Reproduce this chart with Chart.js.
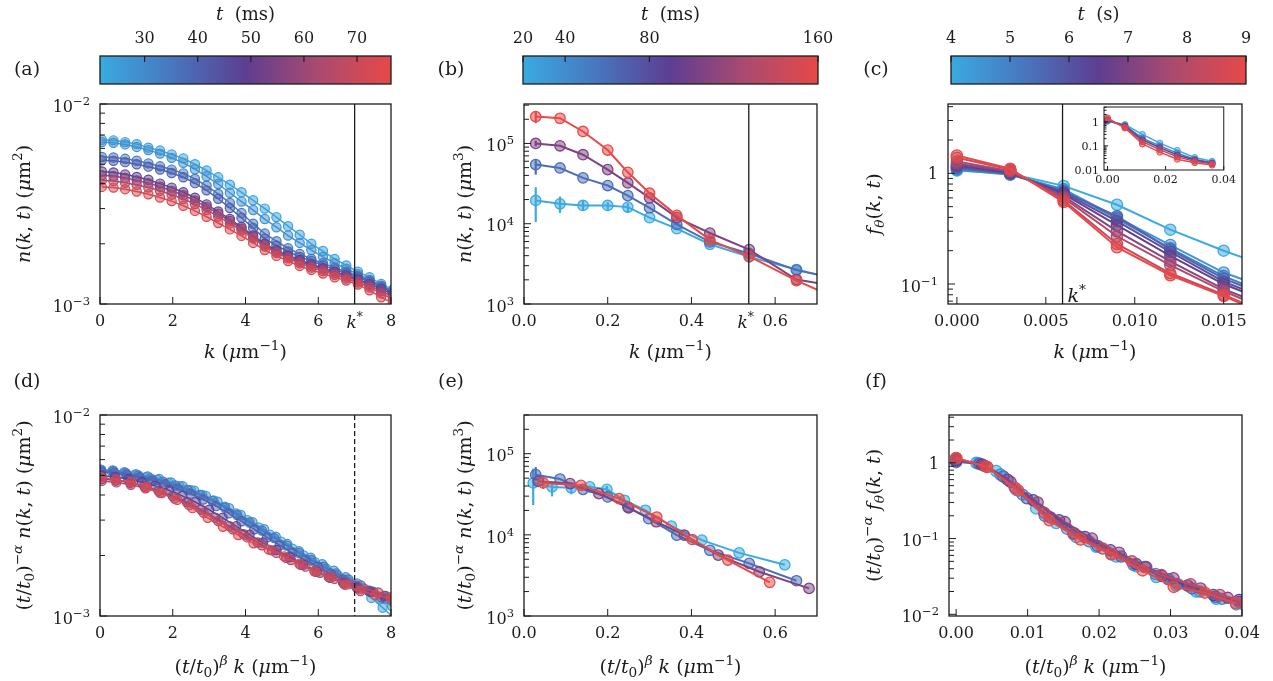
<!DOCTYPE html>
<html>
<head>
<meta charset="utf-8">
<script src="https://cdn.jsdelivr.net/npm/chart.js@4.4.1/dist/chart.umd.min.js"></script>
<style>
  html, body { margin: 0; padding: 0; background: #fff; }
  #fig { position: relative; width: 1273px; height: 681px; overflow: hidden; }
  canvas { position: absolute; }
</style>
</head>
<body>
<div id="fig"></div>
<script>
const FONT = '"DejaVu Serif", serif';
const INK = '#1c1c1c';
const TITLE_SIZE = 19;

// colour scale: light blue -> purple -> red
const CMAP = [[0, [58, 170, 225]], [0.25, [72, 118, 190]], [0.5, [93, 62, 145]], [0.75, [170, 74, 112]], [1, [230, 73, 72]]];

// ---------- (a) n(k,t), early times (ms)
const T_A = [24, 28, 35, 40, 48, 56, 64, 73];
const T_A_RANGE = [21.6, 76.4];
const K_A = [0.05, 0.37, 0.69, 1.01, 1.33, 1.65, 1.97, 2.29, 2.61, 2.93, 3.25, 3.57, 3.89, 4.21, 4.53, 4.85, 5.17, 5.49, 5.81, 6.13, 6.45, 6.77, 7.09, 7.41, 7.73, 8.05];
const N_A = [
  [6.62e-3, 6.58e-3, 6.45e-3, 6.30e-3, 6.05e-3, 5.85e-3, 5.60e-3, 5.35e-3, 5.00e-3, 4.65e-3, 4.30e-3, 3.95e-3, 3.62e-3, 3.30e-3, 3.00e-3, 2.72e-3, 2.45e-3, 2.22e-3, 2.00e-3, 1.84e-3, 1.68e-3, 1.56e-3, 1.45e-3, 1.36e-3, 1.26e-3, 1.18e-3],
  [6.45e-3, 6.40e-3, 6.28e-3, 6.10e-3, 5.88e-3, 5.65e-3, 5.38e-3, 5.08e-3, 4.72e-3, 4.35e-3, 3.98e-3, 3.60e-3, 3.25e-3, 2.95e-3, 2.66e-3, 2.42e-3, 2.20e-3, 2.02e-3, 1.86e-3, 1.72e-3, 1.60e-3, 1.50e-3, 1.41e-3, 1.32e-3, 1.23e-3, 1.15e-3],
  [5.43e-3, 5.40e-3, 5.32e-3, 5.20e-3, 5.05e-3, 4.88e-3, 4.70e-3, 4.50e-3, 4.22e-3, 3.90e-3, 3.55e-3, 3.20e-3, 2.85e-3, 2.52e-3, 2.25e-3, 2.06e-3, 1.90e-3, 1.78e-3, 1.68e-3, 1.60e-3, 1.52e-3, 1.45e-3, 1.38e-3, 1.31e-3, 1.23e-3, 1.16e-3],
  [5.23e-3, 5.20e-3, 5.12e-3, 5.00e-3, 4.86e-3, 4.70e-3, 4.52e-3, 4.30e-3, 4.02e-3, 3.70e-3, 3.36e-3, 3.02e-3, 2.70e-3, 2.40e-3, 2.12e-3, 1.96e-3, 1.83e-3, 1.72e-3, 1.64e-3, 1.56e-3, 1.49e-3, 1.42e-3, 1.36e-3, 1.29e-3, 1.21e-3, 1.14e-3],
  [4.60e-3, 4.55e-3, 4.45e-3, 4.32e-3, 4.18e-3, 4.00e-3, 3.82e-3, 3.62e-3, 3.40e-3, 3.15e-3, 2.90e-3, 2.66e-3, 2.43e-3, 2.20e-3, 2.00e-3, 1.86e-3, 1.75e-3, 1.66e-3, 1.58e-3, 1.51e-3, 1.45e-3, 1.39e-3, 1.33e-3, 1.26e-3, 1.19e-3, 1.12e-3],
  [4.40e-3, 4.36e-3, 4.27e-3, 4.15e-3, 4.02e-3, 3.86e-3, 3.68e-3, 3.50e-3, 3.29e-3, 3.06e-3, 2.83e-3, 2.60e-3, 2.38e-3, 2.17e-3, 1.97e-3, 1.83e-3, 1.72e-3, 1.63e-3, 1.55e-3, 1.49e-3, 1.43e-3, 1.37e-3, 1.31e-3, 1.24e-3, 1.16e-3, 1.09e-3],
  [4.15e-3, 4.12e-3, 4.04e-3, 3.94e-3, 3.82e-3, 3.68e-3, 3.52e-3, 3.35e-3, 3.16e-3, 2.95e-3, 2.74e-3, 2.53e-3, 2.33e-3, 2.13e-3, 1.94e-3, 1.80e-3, 1.69e-3, 1.60e-3, 1.52e-3, 1.46e-3, 1.40e-3, 1.34e-3, 1.28e-3, 1.21e-3, 1.13e-3, 1.06e-3],
  [3.85e-3, 3.82e-3, 3.75e-3, 3.65e-3, 3.54e-3, 3.41e-3, 3.27e-3, 3.10e-3, 2.92e-3, 2.73e-3, 2.54e-3, 2.36e-3, 2.19e-3, 2.02e-3, 1.86e-3, 1.74e-3, 1.64e-3, 1.55e-3, 1.48e-3, 1.42e-3, 1.36e-3, 1.31e-3, 1.25e-3, 1.17e-3, 1.08e-3, 1.01e-3]
];
const KSTAR_A = 7;

// ---------- (d) rescaled version of (a)
const X_D = [
  [0.02, 0.33, 0.64, 0.95, 1.26, 1.57, 1.88, 2.19, 2.5, 2.81, 3.12, 3.43, 3.74, 4.05, 4.36, 4.67, 4.98, 5.29, 5.6, 5.91, 6.22, 6.53, 6.84, 7.15, 7.46, 7.77, 8.08],
  [0.03, 0.35, 0.67, 0.99, 1.31, 1.63, 1.95, 2.27, 2.59, 2.91, 3.23, 3.55, 3.87, 4.19, 4.51, 4.83, 5.15, 5.47, 5.79, 6.11, 6.43, 6.75, 7.07, 7.39, 7.71, 8.03],
  [0.03, 0.37, 0.71, 1.05, 1.39, 1.73, 2.07, 2.41, 2.75, 3.09, 3.43, 3.77, 4.11, 4.45, 4.79, 5.13, 5.47, 5.81, 6.15, 6.49, 6.83, 7.17, 7.51, 7.85, 8.19],
  [0.04, 0.39, 0.74, 1.09, 1.44, 1.79, 2.14, 2.49, 2.84, 3.19, 3.54, 3.89, 4.24, 4.59, 4.94, 5.29, 5.64, 5.99, 6.34, 6.69, 7.04, 7.39, 7.74, 8.09],
  [0.04, 0.41, 0.78, 1.15, 1.52, 1.89, 2.26, 2.63, 3.0, 3.37, 3.74, 4.11, 4.48, 4.85, 5.22, 5.59, 5.96, 6.33, 6.7, 7.07, 7.44, 7.81, 8.18],
  [0.05, 0.44, 0.83, 1.22, 1.61, 2.0, 2.39, 2.78, 3.17, 3.56, 3.95, 4.34, 4.73, 5.12, 5.51, 5.9, 6.29, 6.68, 7.07, 7.46, 7.85, 8.24],
  [0.05, 0.45, 0.85, 1.25, 1.65, 2.05, 2.45, 2.85, 3.25, 3.65, 4.05, 4.45, 4.85, 5.25, 5.65, 6.05, 6.45, 6.85, 7.25, 7.65, 8.05],
  [0.02, 0.44, 0.86, 1.28, 1.7, 2.12, 2.54, 2.96, 3.38, 3.8, 4.22, 4.64, 5.06, 5.48, 5.9, 6.32, 6.74, 7.16, 7.58, 8.0]
];
const N_D = [
  [5.25e-3, 5.2e-3, 5.12e-3, 5.02e-3, 4.9e-3, 4.76e-3, 4.6e-3, 4.42e-3, 4.22e-3, 4.0e-3, 3.76e-3, 3.5e-3, 3.24e-3, 3.0e-3, 2.76e-3, 2.54e-3, 2.34e-3, 2.16e-3, 2.0e-3, 1.85e-3, 1.72e-3, 1.6e-3, 1.48e-3, 1.36e-3, 1.23e-3, 1.1e-3, 0.98e-3],
  [5.35e-3, 5.3e-3, 5.2e-3, 5.08e-3, 4.95e-3, 4.8e-3, 4.62e-3, 4.42e-3, 4.2e-3, 3.96e-3, 3.7e-3, 3.44e-3, 3.18e-3, 2.93e-3, 2.7e-3, 2.48e-3, 2.28e-3, 2.1e-3, 1.95e-3, 1.81e-3, 1.68e-3, 1.56e-3, 1.45e-3, 1.34e-3, 1.22e-3, 1.12e-3],
  [5.3e-3, 5.25e-3, 5.14e-3, 5.0e-3, 4.84e-3, 4.66e-3, 4.46e-3, 4.24e-3, 4.0e-3, 3.74e-3, 3.46e-3, 3.18e-3, 2.92e-3, 2.66e-3, 2.44e-3, 2.24e-3, 2.06e-3, 1.9e-3, 1.76e-3, 1.63e-3, 1.52e-3, 1.42e-3, 1.32e-3, 1.22e-3, 1.13e-3],
  [5.2e-3, 5.15e-3, 5.04e-3, 4.9e-3, 4.72e-3, 4.52e-3, 4.3e-3, 4.06e-3, 3.8e-3, 3.52e-3, 3.24e-3, 2.96e-3, 2.7e-3, 2.46e-3, 2.25e-3, 2.06e-3, 1.9e-3, 1.76e-3, 1.63e-3, 1.52e-3, 1.42e-3, 1.33e-3, 1.24e-3, 1.16e-3],
  [5.0e-3, 4.92e-3, 4.8e-3, 4.64e-3, 4.44e-3, 4.22e-3, 3.96e-3, 3.68e-3, 3.38e-3, 3.08e-3, 2.8e-3, 2.54e-3, 2.32e-3, 2.13e-3, 1.96e-3, 1.8e-3, 1.66e-3, 1.55e-3, 1.45e-3, 1.38e-3, 1.32e-3, 1.26e-3, 1.2e-3],
  [4.8e-3, 4.72e-3, 4.6e-3, 4.42e-3, 4.2e-3, 3.95e-3, 3.68e-3, 3.38e-3, 3.08e-3, 2.8e-3, 2.55e-3, 2.32e-3, 2.12e-3, 1.95e-3, 1.8e-3, 1.67e-3, 1.56e-3, 1.47e-3, 1.39e-3, 1.32e-3, 1.26e-3, 1.2e-3],
  [4.7e-3, 4.62e-3, 4.5e-3, 4.32e-3, 4.1e-3, 3.84e-3, 3.56e-3, 3.26e-3, 2.97e-3, 2.7e-3, 2.46e-3, 2.25e-3, 2.06e-3, 1.9e-3, 1.76e-3, 1.64e-3, 1.53e-3, 1.44e-3, 1.37e-3, 1.31e-3, 1.25e-3],
  [4.91e-3, 4.76e-3, 4.63e-3, 4.38e-3, 4.09e-3, 3.78e-3, 3.44e-3, 3.08e-3, 2.78e-3, 2.53e-3, 2.3e-3, 2.14e-3, 1.98e-3, 1.82e-3, 1.67e-3, 1.56e-3, 1.43e-3, 1.33e-3, 1.27e-3, 1.22e-3]
];

// ---------- (b) n(k,t), 3D, times (ms)
const T_B = [20, 60, 105, 160];
const T_B_RANGE = [20, 160];
const K_B = [0.028, 0.086, 0.141, 0.2, 0.248, 0.3, 0.365, 0.444, 0.538, 0.651, 0.78];
const N_B = [
  [1.95e4, 1.77e4, 1.69e4, 1.69e4, 1.61e4, 1.19e4, 8.67e3, 5.55e3, 3.86e3, 2.69e3, 1.85e3],
  [5.45e4, 4.95e4, 3.72e4, 2.99e4, 2.24e4, 1.58e4, 9.8e3, 5.93e3, 4.25e3, 2.64e3, 1.9e3],
  [1.0e5, 9.35e4, 7.24e4, 4.72e4, 3.22e4, 2.1e4, 1.19e4, 7.66e3, 4.77e3, 2.02e3, 1.55e3],
  [2.16e5, 2.06e5, 1.41e5, 8.27e4, 4.37e4, 2.4e4, 1.27e4, 6.3e3, 3.93e3, 1.95e3, 1.0e3]
];
const ERR_B = [
  [[1.05e4, 2.85e4], [1.36e4, 2.18e4], [1.44e4, 1.95e4], [1.49e4, 1.86e4], [1.36e4, 1.8e4]],
  [[4.09e4, 6.2e4]],
  [[9.2e4, 1.08e5]],
  [[1.79e5, 2.5e5]]
];
const KSTAR_B = 0.537;

// ---------- (e) rescaled version of (b)
const X_E = [
  [0.022, 0.067, 0.113, 0.157, 0.198, 0.24, 0.29, 0.352, 0.425, 0.514, 0.623],
  [0.028, 0.086, 0.141, 0.2, 0.248, 0.298, 0.365, 0.444, 0.538, 0.651],
  [0.034, 0.11, 0.179, 0.25, 0.316, 0.383, 0.464, 0.562, 0.681],
  [0.046, 0.136, 0.227, 0.317, 0.402, 0.487, 0.587]
];
const N_E = [
  [4.36e4, 3.9e4, 3.8e4, 3.9e4, 3.64e4, 2.67e4, 2.01e4, 1.28e4, 8.6e3, 6.0e3, 4.28e3],
  [5.52e4, 4.88e4, 3.64e4, 2.93e4, 2.2e4, 1.58e4, 9.9e3, 6.46e3, 4.45e3, 2.72e3],
  [4.57e4, 4.28e4, 3.22e4, 2.15e4, 1.45e4, 9.9e3, 5.63e3, 3.51e3, 2.19e3],
  [4.36e4, 4.07e4, 2.8e4, 1.66e4, 8.77e3, 4.89e3, 2.6e3]
];
const ERR_E = [
  [[2.32e4, 6.55e4], [2.98e4, 4.28e4], [3.16e4, 4.09e4], [3.38e4, 4.09e4], [3.3e4, 4.0e4]],
  [[4.7e4, 6.85e4]],
  [],
  [[3.7e4, 5.1e4]]
];

// ---------- (c) f_theta(k,t), times (s)
const T_C = [4.0, 4.5, 5.1, 5.6, 6.1, 6.6, 7.2, 7.8, 8.4, 9.0];
const T_C_RANGE = [4, 9];
const K_C = [0, 0.003, 0.006, 0.009, 0.012, 0.015, 0.018];
const F_C = [
  [1.06, 0.99, 0.77, 0.52, 0.31, 0.20, 0.135],
  [1.08, 0.97, 0.72, 0.40, 0.225, 0.127, 0.085],
  [1.10, 0.98, 0.70, 0.39, 0.21, 0.118, 0.075],
  [1.12, 0.99, 0.68, 0.41, 0.205, 0.112, 0.072],
  [1.15, 1.00, 0.67, 0.37, 0.195, 0.105, 0.068],
  [1.18, 1.02, 0.65, 0.34, 0.18, 0.10, 0.064],
  [1.22, 1.04, 0.62, 0.30, 0.16, 0.09, 0.058],
  [1.28, 1.05, 0.60, 0.27, 0.148, 0.086, 0.054],
  [1.38, 1.08, 0.57, 0.23, 0.125, 0.08, 0.05],
  [1.45, 1.10, 0.55, 0.215, 0.12, 0.078, 0.048]
];
const KSTAR_C = 0.00594;

// inset of (c): wider k range
const T_IN = [4, 5.1, 6.6, 7.8, 9];
const K_IN = [0, 0.006, 0.012, 0.018, 0.024, 0.030, 0.036];
const F_IN = [
  [1.06, 0.77, 0.30, 0.13, 0.065, 0.033, 0.023],
  [1.10, 0.70, 0.21, 0.10, 0.05, 0.028, 0.02],
  [1.18, 0.65, 0.18, 0.085, 0.042, 0.026, 0.019],
  [1.28, 0.60, 0.15, 0.07, 0.035, 0.023, 0.018],
  [1.45, 0.55, 0.12, 0.055, 0.028, 0.02, 0.016]
];

// ---------- (f) rescaled version of (c)
const T_F = [4, 4.8, 5.6, 6.4, 7.2, 8.1, 9];
const X_F = [
  [0, 0.0028, 0.0056, 0.0084, 0.0112, 0.014, 0.0168, 0.0196, 0.0224, 0.0252, 0.028, 0.0308, 0.0336, 0.0364, 0.0392, 0.042],
  [0, 0.0031, 0.0062, 0.0093, 0.0124, 0.0155, 0.0186, 0.0217, 0.0248, 0.0279, 0.031, 0.0341, 0.0372, 0.0403],
  [0, 0.0033, 0.0066, 0.0099, 0.0132, 0.0165, 0.0198, 0.0231, 0.0264, 0.0297, 0.033, 0.0363, 0.0396],
  [0, 0.0036, 0.0072, 0.0108, 0.0144, 0.018, 0.0216, 0.0252, 0.0288, 0.0324, 0.036, 0.0396],
  [0, 0.0038, 0.0076, 0.0114, 0.0152, 0.019, 0.0228, 0.0266, 0.0304, 0.0342, 0.038],
  [0, 0.0041, 0.0082, 0.0123, 0.0164, 0.0205, 0.0246, 0.0287, 0.0328, 0.0369, 0.041],
  [0, 0.00435, 0.0087, 0.01305, 0.0174, 0.02175, 0.0261, 0.03045, 0.0348, 0.03915]
];
const F_F = [
  [1.02, 1.0, 0.78, 0.44, 0.25, 0.16, 0.105, 0.078, 0.058, 0.043, 0.031, 0.024, 0.02, 0.016, 0.0135, 0.012],
  [1.04, 0.98, 0.7, 0.38, 0.2, 0.135, 0.092, 0.062, 0.045, 0.034, 0.025, 0.02, 0.016, 0.0135],
  [1.05, 0.97, 0.66, 0.34, 0.19, 0.118, 0.08, 0.058, 0.042, 0.029, 0.022, 0.017, 0.0145],
  [1.08, 0.95, 0.6, 0.32, 0.175, 0.105, 0.07, 0.046, 0.032, 0.024, 0.018, 0.0155],
  [1.12, 0.93, 0.56, 0.3, 0.165, 0.1, 0.065, 0.042, 0.03, 0.022, 0.0165],
  [1.15, 0.9, 0.47, 0.22, 0.115, 0.074, 0.05, 0.033, 0.025, 0.018, 0.0145],
  [1.16, 0.88, 0.43, 0.174, 0.097, 0.062, 0.038, 0.023, 0.0193, 0.014]
];

// ---------- axis titles (text, flags: i = italic, ^ = superscript, _ = subscript)
const TITLE_K = [['k', 'i'], [' (', ''], ['μ', 'i'], ['m', ''], ['−1', '^'], [')', '']];
const TITLE_SK = [['(', ''], ['t', 'i'], ['/', ''], ['t', 'i'], ['0', '_'], [')', ''], ['β', 'i^'], [' ', ''], ['k', 'i'], [' (', ''], ['μ', 'i'], ['m', ''], ['−1', '^'], [')', '']];
const PRE = [['(', ''], ['t', 'i'], ['/', ''], ['t', 'i'], ['0', '_'], [')', ''], ['−', '^'], ['α', 'i^'], [' ', '']];
const NKT = [['n', 'i'], ['(', ''], ['k', 'i'], [', ', ''], ['t', 'i'], [')', '']];
const FKT = [['f', 'i'], ['θ', 'i_'], ['(', ''], ['k', 'i'], [', ', ''], ['t', 'i'], [')', '']];
const UNIT2 = [[' (', ''], ['μ', 'i'], ['m', ''], ['2', '^'], [')', '']];
const UNIT3 = [[' (', ''], ['μ', 'i'], ['m', ''], ['3', '^'], [')', '']];

// ---------- helpers
const BASE = {
  responsive: false, animation: false, devicePixelRatio: 1, events: [],
  plugins: { legend: { display: false }, tooltip: { enabled: false } }
};
const NOGRID = { display: false, drawTicks: false };

function cmap(f) {
  f = Math.max(0, Math.min(1, f));
  for (let i = 1; i < CMAP.length; i++) {
    const [f0, c0] = CMAP[i - 1], [f1, c1] = CMAP[i];
    if (f <= f1) {
      const u = (f - f0) / (f1 - f0);
      return c0.map((v, j) => Math.round(v + (c1[j] - v) * u));
    }
  }
  return CMAP[CMAP.length - 1][1];
}

function addCanvas(x, y, w, h) {
  const c = document.createElement('canvas');
  c.width = w; c.height = h;
  c.style.left = x + 'px'; c.style.top = y + 'px';
  c.style.width = w + 'px'; c.style.height = h + 'px';
  document.getElementById('fig').appendChild(c);
  return c;
}

// draws a run of text pieces centred (or aligned) on x, with y as the middle of the line
function rich(ctx, segs, x, y, size, align = 'center', rot = 0) {
  ctx.save();
  ctx.translate(x, y);
  if (rot) ctx.rotate(rot);
  const parts = segs.map(([t, f = '']) => {
    const small = f.includes('^') || f.includes('_');
    const font = (f.includes('i') ? 'italic ' : '') + (small ? size * 0.72 : size) + 'px ' + FONT;
    ctx.font = font;
    const dy = f.includes('^') ? -size * 0.42 : f.includes('_') ? size * 0.22 : 0;
    return { t, font, dy, w: ctx.measureText(t).width };
  });
  const total = parts.reduce((s, q) => s + q.w, 0);
  let px = align === 'right' ? -total : align === 'left' ? 0 : -total / 2;
  ctx.fillStyle = INK;
  ctx.textAlign = 'left';
  ctx.textBaseline = 'alphabetic';
  for (const q of parts) {
    ctx.font = q.font;
    ctx.fillText(q.t, px, size * 0.36 + q.dy);
    px += q.w;
  }
  ctx.restore();
}

function mkSeries(xs, ys, t, range, st, err) {
  const c = cmap((t - range[0]) / (range[1] - range[0]));
  const solid = `rgb(${c})`, soft = `rgba(${c},0.5)`;
  return {
    data: xs.map((x, i) => ({ x, y: ys[i] })),
    borderColor: solid, backgroundColor: soft,
    pointBackgroundColor: soft, pointBorderColor: solid,
    pointRadius: st.r, pointBorderWidth: st.bw, borderWidth: st.lw,
    tension: 0, clip: 0, err
  };
}

function decor(p) {
  return {
    id: 'decor',
    beforeDatasetsDraw(chart) {
      const ctx = chart.ctx, a = chart.chartArea, xs = chart.scales.x, ys = chart.scales.y;
      ctx.save();
      if (p.white) { ctx.fillStyle = '#fff'; ctx.fillRect(a.left, a.top, a.right - a.left, a.bottom - a.top); }
      ctx.beginPath(); ctx.rect(a.left, a.top, a.right - a.left, a.bottom - a.top); ctx.clip();
      // error bars
      for (const ds of chart.data.datasets) {
        if (!ds.err) continue;
        ctx.strokeStyle = ds.borderColor; ctx.lineWidth = 2.2;
        ds.err.forEach((e, i) => {
          if (!e) return;
          const px = xs.getPixelForValue(ds.data[i].x);
          ctx.beginPath();
          ctx.moveTo(px, ys.getPixelForValue(e[0]));
          ctx.lineTo(px, ys.getPixelForValue(e[1]));
          ctx.stroke();
        });
      }
      ctx.restore();
    },
    afterDatasetsDraw(chart) {
      const ctx = chart.ctx, a = chart.chartArea, xs = chart.scales.x, ys = chart.scales.y;
      const [cx, cy] = p.canvas;
      ctx.save();
      ctx.strokeStyle = INK;
      if (p.vline) {
        const px = xs.getPixelForValue(p.vline.x);
        ctx.lineWidth = 1.3;
        ctx.setLineDash(p.vline.dash || []);
        ctx.beginPath(); ctx.moveTo(px, a.top); ctx.lineTo(px, a.bottom); ctx.stroke();
        ctx.setLineDash([]);
      }
      ctx.lineWidth = p.frameW || 1.3;
      ctx.strokeRect(a.left, a.top, a.right - a.left, a.bottom - a.top);
      // inward ticks
      ctx.lineWidth = 1;
      ctx.beginPath();
      for (const v of p.xTicks) {
        const px = xs.getPixelForValue(v);
        ctx.moveTo(px, a.bottom); ctx.lineTo(px, a.bottom - p.tk[0]);
      }
      const e0 = Math.floor(Math.log10(p.y[0])), e1 = Math.ceil(Math.log10(p.y[1]));
      for (let e = e0; e <= e1; e++) {
        for (let m = 1; m <= 9; m++) {
          const v = m * Math.pow(10, e);
          if (v < p.y[0] * 0.999 || v > p.y[1] * 1.001) continue;
          const py = ys.getPixelForValue(v);
          ctx.moveTo(a.left, py); ctx.lineTo(a.left + (m === 1 ? p.tk[0] : p.tk[1]), py);
        }
      }
      ctx.stroke();
      ctx.restore();
      // y tick labels
      for (const v of p.yLabels) {
        const ex = Math.round(Math.log10(v));
        const segs = p.yFmt ? [[p.yFmt(v), '']]
          : ex === 0 ? [['1', '']] : [['10', ''], [(ex < 0 ? '−' : '') + Math.abs(ex), '^']];
        rich(ctx, segs, a.left - p.yPad, ys.getPixelForValue(v) + (segs.length > 1 ? 2 : 0), p.fs, 'right');
      }
      if (p.xTitle) rich(ctx, p.xTitle, (a.left + a.right) / 2, p.xTitleY - cy, TITLE_SIZE);
      if (p.yTitle) rich(ctx, p.yTitle, p.yTitleX - cx, (a.top + a.bottom) / 2, TITLE_SIZE, 'center', -Math.PI / 2);
      if (p.label) rich(ctx, [[p.label[0], '']], p.label[1] - cx, p.label[2] - cy, TITLE_SIZE);
      if (p.kstar) {
        const k = p.kstar;
        rich(ctx, [['k', 'i'], ['*', '^']], xs.getPixelForValue(k.x) + k.dx, k.y - cy, k.size, k.align);
      }
    }
  };
}

function panel(p) {
  const [cx, cy, cw, ch] = p.canvas;
  const [L, R, T, B] = p.area;
  const cv = addCanvas(cx, cy, cw, ch);
  return new Chart(cv, {
    type: 'line',
    data: { datasets: p.datasets.slice().reverse() },
    options: Object.assign({}, BASE, {
      layout: { padding: { left: 0, top: T - cy, right: cx + cw - R, bottom: 0 } },
      scales: {
        x: {
          type: 'linear', min: p.x[0], max: p.x[1], grid: NOGRID, border: { display: false },
          afterFit: s => { s.height = cy + ch - B; },
          afterBuildTicks: s => { s.ticks = p.xTicks.map(v => ({ value: v })); },
          ticks: {
            autoSkip: false, maxRotation: 0, padding: p.tickPad, color: INK,
            font: { family: FONT, size: p.fs }, callback: v => p.xFmt(v)
          }
        },
        y: {
          type: 'logarithmic', min: p.y[0], max: p.y[1], grid: NOGRID, border: { display: false },
          afterFit: s => { s.width = L - cx; },
          ticks: { display: false }
        }
      }
    }),
    plugins: [decor(p)]
  });
}

function colorbar(c) {
  const [cx, cy, cw, ch] = c.canvas;
  const [L, R, T, B] = c.area;
  const cv = addCanvas(cx, cy, cw, ch);
  return new Chart(cv, {
    type: 'scatter',
    data: { datasets: [] },
    options: Object.assign({}, BASE, {
      layout: { padding: { left: L - cx, right: cx + cw - R, top: 0, bottom: cy + ch - B } },
      scales: {
        x: {
          type: 'linear', position: 'top', min: c.range[0], max: c.range[1],
          grid: NOGRID, border: { display: false },
          afterFit: s => { s.height = T - cy; },
          afterBuildTicks: s => { s.ticks = c.ticks.map(v => ({ value: v })); },
          ticks: { autoSkip: false, maxRotation: 0, padding: 8, color: INK, font: { family: FONT, size: 16 } }
        },
        y: { display: false, min: 0, max: 1 }
      }
    }),
    plugins: [{
      id: 'cbar',
      afterDraw(chart) {
        const ctx = chart.ctx, a = chart.chartArea, xs = chart.scales.x;
        const g = ctx.createLinearGradient(a.left, 0, a.right, 0);
        CMAP.forEach(([f, col]) => g.addColorStop(f, `rgb(${col})`));
        ctx.save();
        ctx.fillStyle = g;
        ctx.fillRect(a.left, a.top, a.right - a.left, a.bottom - a.top);
        ctx.strokeStyle = INK; ctx.lineWidth = 1.3;
        ctx.strokeRect(a.left, a.top, a.right - a.left, a.bottom - a.top);
        ctx.lineWidth = 1.2;
        ctx.beginPath();
        for (const v of c.ticks) {
          const px = xs.getPixelForValue(v);
          ctx.moveTo(px, a.top); ctx.lineTo(px, a.top + 6);
        }
        ctx.stroke();
        ctx.restore();
        rich(ctx, c.title, (a.left + a.right) / 2, c.titleY - cy, 18);
        rich(ctx, [[c.label[0], '']], c.label[1] - cx, c.label[2] - cy, TITLE_SIZE);
      }
    }]
  });
}

// ---------- build
const ST_A = { r: 4.6, bw: 1.2, lw: 1.5 };
const ST_B = { r: 5.2, bw: 1.3, lw: 2 };
const ST_C = { r: 5.6, bw: 1.3, lw: 2 };
const ST_IN = { r: 3, bw: 1, lw: 1.5 };

const fmt = d => v => v.toFixed(d);

colorbar({ canvas: [0, 0, 425, 95], area: [100, 391, 56, 84], range: T_A_RANGE, ticks: [30, 40, 50, 60, 70],
  title: [['t', 'i'], ['  (ms)', '']], titleY: 14, label: ['(a)', 27, 68] });
colorbar({ canvas: [425, 0, 425, 95], area: [523, 818, 56, 84], range: T_B_RANGE, ticks: [20, 40, 80, 160],
  title: [['t', 'i'], ['  (ms)', '']], titleY: 14, label: ['(b)', 451, 68] });
colorbar({ canvas: [850, 0, 423, 95], area: [951, 1246, 56, 84], range: T_C_RANGE, ticks: [4, 5, 6, 7, 8, 9],
  title: [['t', 'i'], ['  (s)', '']], titleY: 14, label: ['(c)', 876, 68] });

panel({
  canvas: [0, 95, 425, 275], area: [100, 391, 104, 304],
  x: [0, 8], y: [1e-3, 1e-2], xTicks: [0, 2, 4, 6, 8], xFmt: fmt(0), yLabels: [1e-3, 1e-2],
  datasets: T_A.map((t, i) => mkSeries(K_A, N_A[i], t, T_A_RANGE, ST_A)),
  vline: { x: KSTAR_A }, kstar: { x: KSTAR_A, dx: 0, y: 322, size: 17, align: 'center' },
  xTitle: TITLE_K, xTitleY: 351, yTitle: NKT.concat(UNIT2), yTitleX: 23,
  fs: 16, tickPad: 8, yPad: 10, tk: [7, 5]
});
panel({
  canvas: [425, 95, 425, 275], area: [524, 817, 104, 304],
  x: [0, 0.7], y: [1e3, 3.1e5], xTicks: [0, 0.2, 0.4, 0.6], xFmt: fmt(1), yLabels: [1e3, 1e4, 1e5],
  datasets: T_B.map((t, i) => mkSeries(K_B, N_B[i], t, T_B_RANGE, ST_B, ERR_B[i])),
  vline: { x: KSTAR_B }, kstar: { x: KSTAR_B, dx: -3, y: 322, size: 17, align: 'center' },
  xTitle: TITLE_K, xTitleY: 351, yTitle: NKT.concat(UNIT3), yTitleX: 464,
  fs: 16, tickPad: 8, yPad: 10, tk: [7, 5]
});
panel({
  canvas: [850, 95, 423, 275], area: [948, 1242, 104, 304],
  x: [-0.0005, 0.01603], y: [0.066, 4.23], xTicks: [0, 0.005, 0.01, 0.015], xFmt: fmt(3), yLabels: [0.1, 1],
  datasets: T_C.map((t, i) => mkSeries(K_C, F_C[i], t, T_C_RANGE, ST_C)),
  vline: { x: KSTAR_C }, kstar: { x: KSTAR_C, dx: 5, y: 295, size: 19, align: 'left' },
  xTitle: TITLE_K, xTitleY: 351, yTitle: FKT, yTitleX: 873,
  fs: 16, tickPad: 8, yPad: 10, tk: [7, 5]
});
// inset of (c)
panel({
  canvas: [1060, 100, 180, 95], area: [1104, 1226, 107, 170],
  x: [-0.0012, 0.04], y: [0.01, 4.1], xTicks: [0, 0.02, 0.04], xFmt: fmt(2), yLabels: [0.01, 0.1, 1],
  yFmt: v => String(v), white: true, frameW: 1,
  datasets: T_IN.map((t, i) => mkSeries(K_IN, F_IN[i], t, T_C_RANGE, ST_IN)),
  fs: 11, tickPad: 4, yPad: 5, tk: [4, 2.5]
});

panel({
  canvas: [0, 370, 425, 311], area: [100, 391, 415, 616],
  x: [0, 8], y: [1e-3, 1e-2], xTicks: [0, 2, 4, 6, 8], xFmt: fmt(0), yLabels: [1e-3, 1e-2],
  datasets: T_A.map((t, i) => mkSeries(X_D[i], N_D[i], t, T_A_RANGE, ST_A)),
  vline: { x: KSTAR_A, dash: [5, 3] },
  xTitle: TITLE_SK, xTitleY: 666, yTitle: PRE.concat(NKT, UNIT2), yTitleX: 23, label: ['(d)', 27, 380],
  fs: 16, tickPad: 8, yPad: 10, tk: [7, 5]
});
panel({
  canvas: [425, 370, 425, 311], area: [524, 817, 415, 616],
  x: [0, 0.7], y: [1e3, 3.0e5], xTicks: [0, 0.2, 0.4, 0.6], xFmt: fmt(1), yLabels: [1e3, 1e4, 1e5],
  datasets: T_B.map((t, i) => mkSeries(X_E[i], N_E[i], t, T_B_RANGE, ST_B, ERR_E[i])),
  xTitle: TITLE_SK, xTitleY: 666, yTitle: PRE.concat(NKT, UNIT3), yTitleX: 464, label: ['(e)', 451, 380],
  fs: 16, tickPad: 8, yPad: 10, tk: [7, 5]
});
panel({
  canvas: [850, 370, 423, 311], area: [949, 1242, 415, 616],
  x: [-0.001, 0.04], y: [0.0095, 4.28], xTicks: [0, 0.01, 0.02, 0.03, 0.04], xFmt: fmt(2), yLabels: [0.01, 0.1, 1],
  datasets: T_F.map((t, i) => mkSeries(X_F[i], F_F[i], t, T_C_RANGE, ST_C)),
  xTitle: TITLE_SK, xTitleY: 666, yTitle: PRE.concat(FKT), yTitleX: 873, label: ['(f)', 876, 380],
  fs: 16, tickPad: 8, yPad: 10, tk: [7, 5]
});
</script>
</body>
</html>
